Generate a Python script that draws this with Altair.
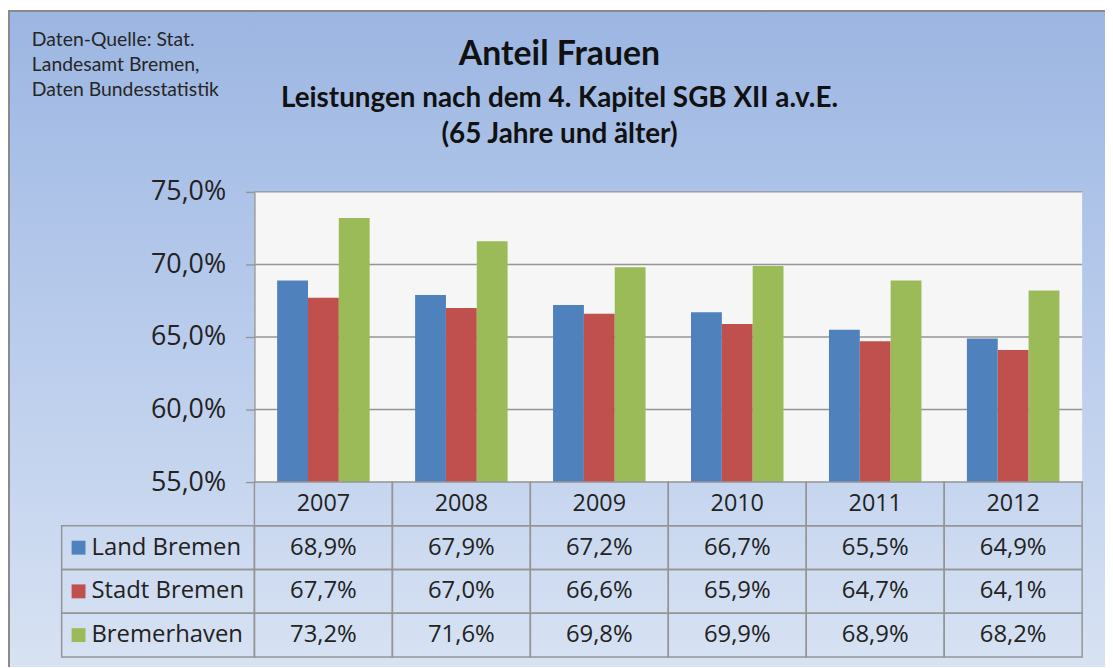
import altair as alt
import pandas as pd

years = ["2007", "2008", "2009", "2010", "2011", "2012"]
series = ["Land Bremen", "Stadt Bremen", "Bremerhaven"]
colors = ["#4F81BD", "#C0504D", "#9BBB59"]
land_bremen = [68.9, 67.9, 67.2, 66.7, 65.5, 64.9]
stadt_bremen = [67.7, 67.0, 66.6, 65.9, 64.7, 64.1]
bremerhaven = [73.2, 71.6, 69.8, 69.9, 68.9, 68.2]
y_ticks = [55, 60, 65, 70, 75]
grid_values = [60, 65, 70, 75]
title_lines = ["Anteil Frauen",
               "Leistungen nach dem 4. Kapitel SGB XII a.v.E.",
               "(65 Jahre und älter)"]
source_lines = ["Daten-Quelle: Stat.", "Landesamt Bremen,", "Daten Bundesstatistik"]

W, H = 833, 292
rows = ["header"] + series

vals = {"Land Bremen": land_bremen, "Stadt Bremen": stadt_bremen, "Bremerhaven": bremerhaven}
long = pd.DataFrame([
    {"year": y, "series": s, "row": s, "value": vals[s][i]}
    for s in series for i, y in enumerate(years)
])
cells = pd.DataFrame([{"year": y, "row": r} for y in years for r in rows])
labels = pd.DataFrame({"series": series, "row": series})
header = pd.DataFrame({"year": years, "row": ["header"] * len(years)})
grid = pd.DataFrame({"t": grid_values})
one = pd.DataFrame({"a": [0]})

ydom = alt.Scale(domain=[55, 75], nice=False, zero=False)
xscale = alt.Scale(domain=years, paddingInner=0, paddingOuter=0)
tscale = alt.Scale(domain=rows, range=[292, 468], paddingInner=0, paddingOuter=0)
cscale = alt.Scale(domain=series, range=colors)
gray = "#959595"
txt = "#222222"

bg = alt.Chart(one).mark_rect(
    fill=alt.Gradient(gradient="linear", x1=0, x2=0, y1=0, y2=1,
                      stops=[alt.GradientStop(color="#9CB6E2", offset=0),
                             alt.GradientStop(color="#B9CCEC", offset=0.45),
                             alt.GradientStop(color="#DDE6F4", offset=1)]),
    stroke="#8A8A8A", strokeWidth=2,
).encode(x=alt.value(-247), x2=alt.value(W + 60), y=alt.value(-182), y2=alt.value(H + 250))

plotbg = alt.Chart(one).mark_rect(fill="#F6F6F6").encode(
    x=alt.value(0), x2=alt.value(W), y=alt.value(0), y2=alt.value(H))

rules = alt.Chart(grid).mark_rule(color=gray, strokeWidth=1.4).encode(
    x=alt.value(0), x2=alt.value(W),
    y=alt.Y("t:Q", scale=ydom, axis=None))

bars = alt.Chart(long).mark_bar().encode(
    x=alt.X("year:N", scale=xscale, axis=None),
    xOffset=alt.XOffset("series:N", sort=series,
                        scale=alt.Scale(domain=series, paddingInner=0, paddingOuter=0.737)),
    y=alt.Y("value:Q", scale=ydom,
            axis=alt.Axis(values=y_ticks, grid=False, title=None,
                          labelExpr="replace(format(datum.value, '.1f'), '.', ',') + '%'",
                          labelFont="Open Sans", labelFontSize=27, labelColor=txt,
                          tickSize=9, tickColor=gray, tickWidth=1.4,
                          domainColor=gray, domainWidth=1.4, labelPadding=20, zindex=1)),
    y2=alt.datum(55),
    color=alt.Color("series:N", scale=cscale, legend=None),
)

cellrects = alt.Chart(cells).mark_rect(fillOpacity=0, stroke=gray, strokeWidth=1.5).encode(
    x=alt.X("year:N", scale=xscale, axis=None),
    y=alt.Y("row:N", scale=tscale, axis=None))

labelrects = alt.Chart(labels).mark_rect(fillOpacity=0, stroke=gray, strokeWidth=1.5).encode(
    x=alt.value(-194), x2=alt.value(0),
    y=alt.Y("row:N", scale=tscale, axis=None))

squares = alt.Chart(labels).mark_square(size=196, opacity=1).encode(
    x=alt.value(-177),
    y=alt.Y("row:N", scale=tscale, axis=None),
    color=alt.Color("series:N", scale=cscale, legend=None))

labeltext = alt.Chart(labels).mark_text(align="left", font="Open Sans", fontSize=24, color=txt).encode(
    x=alt.value(-164),
    y=alt.Y("row:N", scale=tscale, axis=None),
    text="series:N")

headertext = alt.Chart(header).mark_text(font="Open Sans", fontSize=23.5, color=txt).encode(
    x=alt.X("year:N", scale=xscale, axis=None),
    y=alt.Y("row:N", scale=tscale, axis=None),
    text="year:N")

valuetext = alt.Chart(long).transform_calculate(
    lab="replace(format(datum.value, '.1f'), '.', ',') + '%'"
).mark_text(font="Open Sans", fontSize=24, color=txt).encode(
    x=alt.X("year:N", scale=xscale, axis=None),
    y=alt.Y("row:N", scale=tscale, axis=None),
    text="lab:N")

t1 = alt.Chart(pd.DataFrame({"t": [title_lines[0]]})).mark_text(
    font="Lato", fontSize=34, fontWeight="bold", color="#111111", baseline="alphabetic").encode(
    x=alt.value(307), y=alt.value(-128), text="t:N")
t2 = alt.Chart(pd.DataFrame({"t": [title_lines[1]]})).mark_text(
    font="Lato", fontSize=28, fontWeight="bold", color="#111111", baseline="alphabetic").encode(
    x=alt.value(307), y=alt.value(-85), text="t:N")
t3 = alt.Chart(pd.DataFrame({"t": [title_lines[2]]})).mark_text(
    font="Lato", fontSize=28, fontWeight="bold", color="#111111", baseline="alphabetic").encode(
    x=alt.value(307), y=alt.value(-49), text="t:N")

src = alt.Chart(pd.DataFrame({"t": source_lines, "i": [0, 1, 2]})).transform_calculate(
    yy="-147 + datum.i * 25"
).mark_text(font="Lato", fontSize=19.5, color="#262626", align="left", baseline="alphabetic").encode(
    x=alt.value(-224), y=alt.Y("yy:Q", scale=None), text="t:N")

chart = alt.layer(
    bg, plotbg, rules, bars, cellrects, labelrects, squares, labeltext, headertext, valuetext,
    t1, t2, t3, src
).resolve_scale(y="independent").properties(
    width=W, height=H,
    padding={"left": 248, "top": 183, "right": 23, "bottom": 184},
    autosize=alt.AutoSizeParams(type="none"),
).configure_view(strokeWidth=0)

chart.save("out.html", embed_options={"renderer": "svg", "actions": False})
